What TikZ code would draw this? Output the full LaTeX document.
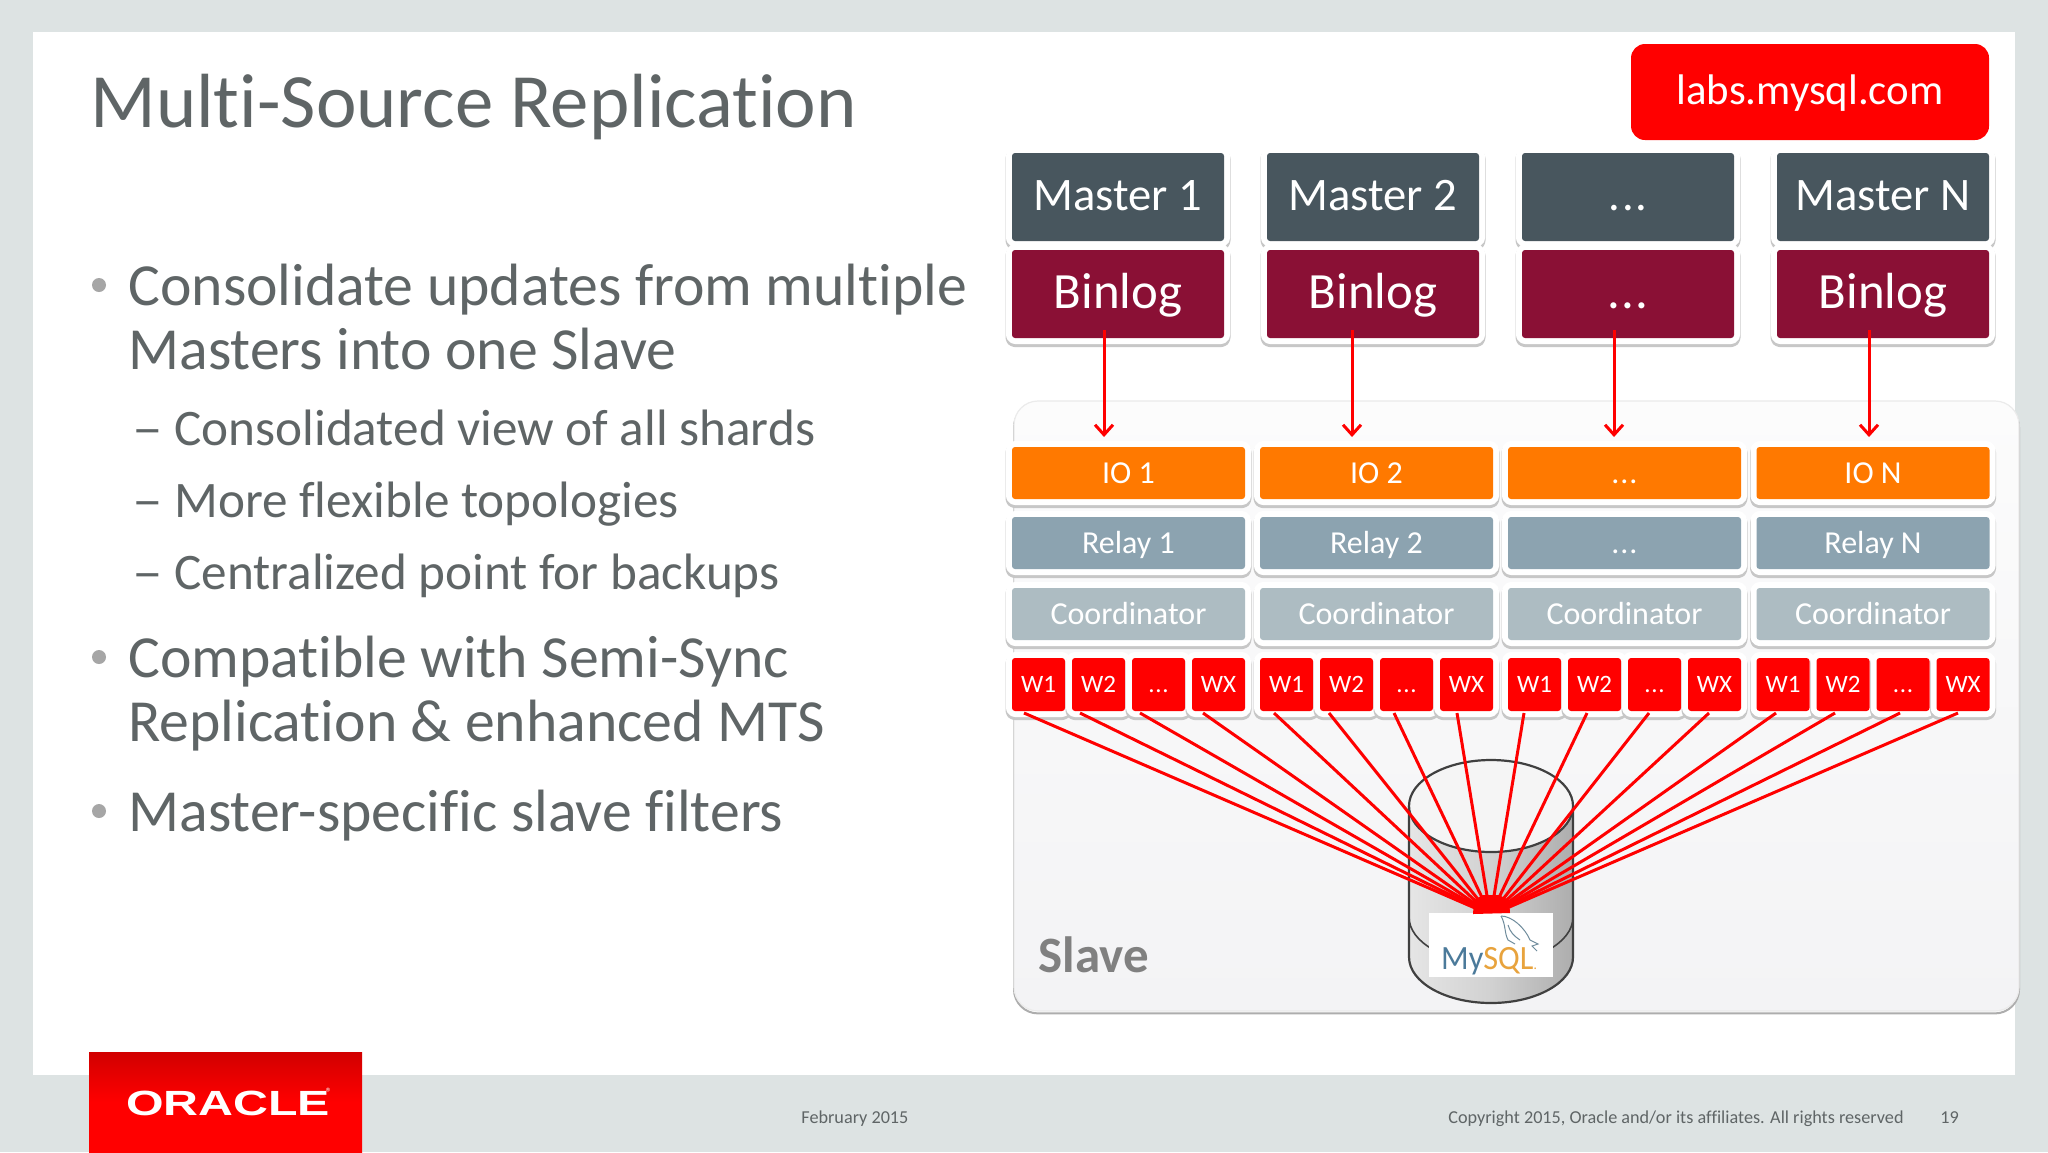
\documentclass[tikz,border=0pt]{standalone}
\usepackage{fontspec}
\setmainfont[Ligatures=NoCommon]{Carlito}
\newfontfamily\logofont{Liberation Sans}
\usetikzlibrary{calc,arrows.meta}
\newcommand{\eld}{.\kern0.03em.\kern0.03em.}
\definecolor{pagebg}{HTML}{DDE3E3}
\definecolor{txt}{HTML}{5F6566}
\definecolor{mastercol}{HTML}{48565E}
\definecolor{binlogcol}{HTML}{8A1035}
\definecolor{iocol}{HTML}{FF7900}
\definecolor{relaycol}{HTML}{8CA3B0}
\definecolor{coordcol}{HTML}{ADBCC2}
\definecolor{slavetop}{HTML}{FCFCFC}
\definecolor{slavebot}{HTML}{F3F3F5}
\definecolor{dolphin}{HTML}{6F8C9C}
\tikzset{
  x=0.5pt,y=-0.5pt,
  framed/.style={rectangle,rounded corners=1.5pt,inner sep=0pt,outer sep=0pt,text=white,line join=round,
    preaction={draw=black!22,line width=6.5pt,transform canvas={yshift=-1.3pt}},
    preaction={draw=white,line width=6pt},
    preaction={fill=white}},
  masterbox/.style={framed,fill=mastercol,minimum width=106pt,minimum height=44pt,text height=15pt,text depth=2pt,font=\fontsize{23.3}{24}\selectfont},
  binlogbox/.style={framed,fill=binlogcol,minimum width=106pt,minimum height=44pt,text height=16pt,text depth=2pt,font=\fontsize{25.4}{27}\selectfont},
  rowbox/.style={framed,minimum width=116.5pt,minimum height=26pt,text height=11pt,text depth=1pt,font=\fontsize{16}{18}\selectfont},
  wbox/.style={framed,fill=red,minimum width=26.5pt,minimum height=26.5pt,text height=9pt,text depth=1pt,font=\fontsize{12.5}{14}\selectfont},
  body/.style={anchor=base west,inner sep=0pt,text=txt,font=\fontsize{29.85}{32}\selectfont},
  subbody/.style={anchor=base west,inner sep=0pt,text=txt,font=\fontsize{25.6}{28}\selectfont},
  dashmark/.style={subbody,xscale=1.2},
  foot/.style={inner sep=0pt,text=txt,font=\fontsize{9.1}{11}\selectfont},
  dot/.style={circle,fill=black!35,inner sep=0pt,minimum size=7pt},
  flow/.style={draw=red,line width=1.5pt,-{Straight Barb[length=5pt,width=9pt,line width=1.5pt]}},
  feed/.style={draw=red,line width=1.5pt},
  dbline/.style={draw=black!75,line width=1.1pt},
}
\begin{document}
\begin{tikzpicture}
\useasboundingbox (0,0) rectangle (2048,1152);
\fill[pagebg] (0,0) rectangle (2048,1152);
\fill[white] (33,32) rectangle (2015,1075);
% logo
\shade[top color=red!82!black,bottom color=red,middle color=red] (89,1052) rectangle (362,1152);
\node[inner sep=0pt,text=white,xscale=1.38] (oracle) at (228,1103) {\logofont\bfseries\fontsize{17.5}{17.5}\selectfont ORACLE};
\node[inner sep=0pt,text=white,font=\fontsize{6}{6}\selectfont] (reg) at (329,1092) {®};
% title
\node[anchor=base west,inner sep=0pt,text=txt,font=\fontsize{38.4}{42}\selectfont] (title) at (90,127) {Multi-Source Replication};
\node[fill=red,rounded corners=7pt,minimum width=179pt,minimum height=48pt,inner sep=0pt,text=white,text height=13.5pt,text depth=1pt,font=\fontsize{21.4}{23}\selectfont] (labs) at (1810,92) {labs.mysql.com};
% left text
\node[dot] (b1) at (99,285) {};
\node[body] (l1) at (128,305.5) {Consolidate updates from multiple};
\node[body] (l2) at (128,369.5) {Masters into one Slave};
\node[dashmark] (d1) at (132,445) {–};
\node[subbody] (s1) at (174,445) {Consolidated view of all shards};
\node[dashmark] (d2) at (132,517) {–};
\node[subbody] (s2) at (174,517) {More flexible topologies};
\node[dashmark] (d3) at (132,589) {–};
\node[subbody] (s3) at (174,589) {Centralized point for backups};
\node[dot] (b2) at (99,657) {};
\node[body] (l3) at (128,677.5) {Compatible with Semi-Sync};
\node[body] (l4) at (128,741.5) {Replication \& enhanced MTS};
\node[dot] (b3) at (99,811) {};
\node[body] (l5) at (128,831) {Master-specific slave filters};
% footer
\node[foot,anchor=base west] (date) at (801,1123) {February 2015};
\node[foot,anchor=base east] (copy) at (1904,1123) {Copyright 2015, Oracle and/or its affiliates. All rights reserved};
\node[foot,anchor=base west] (page) at (1940,1123) {19};
% slave panel
\node[rectangle,rounded corners=12pt,minimum width=502.5pt,minimum height=305pt,inner sep=0pt,top color=slavetop,bottom color=slavebot,draw=black!8,line width=0.6pt,
  preaction={draw=black!32,line width=1pt,transform canvas={yshift=-1.2pt}}] (slave) at (1516.5,706) {};
\node[anchor=base west,inner sep=0pt,text=black!50,font=\bfseries\fontsize{25.5}{27}\selectfont] (slavelbl) at (1038,972) {Slave};
% masters
\foreach \i/\cx/\mt/\bt in {1/1118/Master 1/Binlog,2/1373/Master 2/Binlog,3/1628/\eld/\eld,4/1883/Master N/Binlog}{
  \node[masterbox] (m\i) at (\cx,197) {\mt};
  \node[binlogbox] (bin\i) at (\cx,294) {\bt};
}
% rows
\foreach \i/\cx/\io/\rl in {1/1128.5/IO 1/Relay 1,2/1376.5/IO 2/Relay 2,3/1624.5/\eld/\eld,4/1873/IO N/Relay N}{
  \node[rowbox,fill=iocol] (io\i) at (\cx,473) {\io};
  \node[rowbox,fill=relaycol] (relay\i) at (\cx,543) {\rl};
  \node[rowbox,fill=coordcol] (coord\i) at (\cx,614) {Coordinator};
}
% workers
\foreach \g/\off in {1/0,2/248,3/496,4/744.5}{
  \foreach \w/\dx/\lbl in {1/1038.5/W1,2/1098.5/W2,3/1158.5/\eld,4/1218.5/WX}{
    \node[wbox] (w\g\w) at ({\dx+\off},684.5) {\lbl};
  }
}
% arrows
\draw[flow] ($(bin1.south)+(-14,-8)$) -- ($(io1.north)+(-24.5,-10)$);
\draw[flow] ($(bin2.south)+(-21,-8)$) -- ($(io2.north)+(-24.5,-10)$);
\draw[flow] ($(bin3.south)+(-14,-8)$) -- ($(io3.north)+(-10.5,-10)$);
\draw[flow] ($(bin4.south)+(-14,-8)$) -- ($(io4.north)+(-4,-10)$);
% database
\shade[left color=black!10,right color=black!32,middle color=black!18]
  (1409,806) -- (1409,957) arc[start angle=180,end angle=0,x radius=82,y radius=46] -- (1573,806) arc[start angle=0,end angle=-180,x radius=82,y radius=46] -- cycle;
\draw[dbline] (1409,806) -- (1409,957) arc[start angle=180,end angle=0,x radius=82,y radius=46] -- (1573,806);
\draw[dbline,line width=0.8pt] (1409,917) arc[start angle=180,end angle=0,x radius=82,y radius=46];
\draw[dbline,fill=black!4] (1491,806) ellipse[x radius=82,y radius=46];
% mysql logo
\node[fill=white,minimum width=62pt,minimum height=32pt,inner sep=0pt] (mysqlbox) at (1491,945) {};
\node[inner sep=0pt,font=\fontsize{17}{17}\selectfont,xscale=.95] (mysql) at (1489,961) {\textcolor[HTML]{4B7A9A}{My}\textcolor[HTML]{E8A33D}{SQL}\textcolor[HTML]{E8A33D}{\fontsize{7}{7}\selectfont.}};
\draw[draw=dolphin,line width=0.5pt] (1501,916) .. controls (1512,916) and (1525,928) .. (1530,940) -- (1538,944) -- (1532,946) -- (1537,951);
\draw[draw=dolphin,line width=0.5pt] (1501,916) .. controls (1506,925) and (1504,932) .. (1508,940) -- (1515,944);
\draw[draw=dolphin,line width=0.5pt] (1508,925) .. controls (1510,932) and (1514,936) .. (1520,940);
% feeds
\foreach \g/\w/\dx/\ex in {
 1/1/-14.5/1475, 1/2/-18.5/1477, 1/3/-18.5/1479, 1/4/-15.5/1481,
 2/1/-12.5/1483, 2/2/-17.5/1485, 2/3/-12.5/1487, 2/4/-9.5/1489,
 3/1/-10.5/1492, 3/2/-7.5/1494, 3/3/-5.5/1496, 3/4/-5.5/1498,
 4/1/-7/1500, 4/2/-8/1502, 4/3/-3/1504, 4/4/-5/1507}{
  \coordinate (hub\g\w) at (\ex,908);
  \draw[feed] ($(w\g\w.south)+(\dx,2)$) -- (hub\g\w);
}
\coordinate (hubtl) at (1474,900);
\coordinate (hubtr) at (1509,900);
\fill[red] (1473,914) -- (hubtl) -- (1483,895) -- (1499,895) -- (hubtr) -- (1510,913) -- cycle;
\end{tikzpicture}
\end{document}
